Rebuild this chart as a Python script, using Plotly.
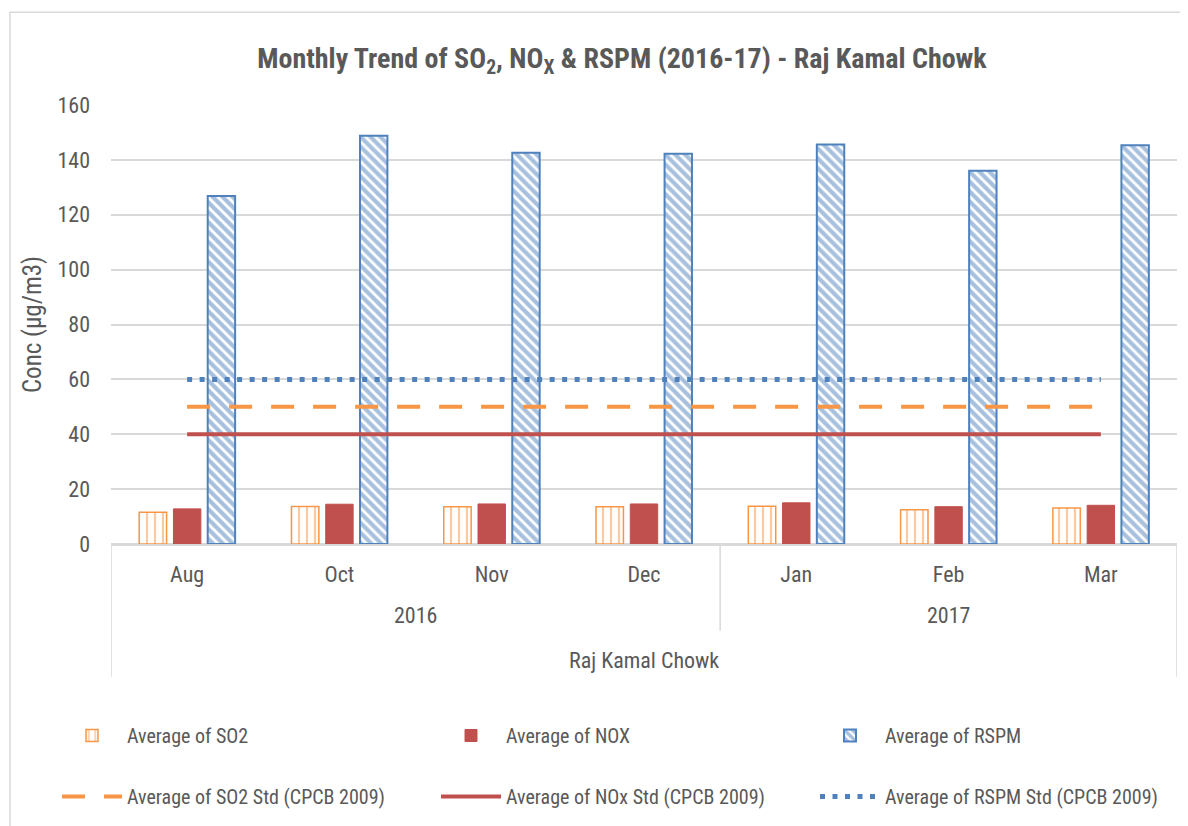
import plotly.graph_objects as go

months = ["Aug", "Oct", "Nov", "Dec", "Jan", "Feb", "Mar"]
years = ["2016", "2017"]
year_span = [(0, 3), (4, 6)]
location = "Raj Kamal Chowk"

so2 = [11.6, 13.7, 13.6, 13.6, 13.8, 12.5, 13.1]
nox = [12.8, 14.5, 14.6, 14.6, 15.0, 13.6, 14.1]
rspm = [126.8, 148.8, 142.6, 142.2, 145.6, 136.0, 145.3]
so2_std = [50] * 7
nox_std = [40] * 7
rspm_std = [60] * 7

ORANGE = "#F79646"
RED = "#C0504D"
BLUE = "#4F81BD"
GRID = "#D9D9D9"
TXT = "#595959"
FONT = "Liberation Sans Narrow, Arial Narrow, Roboto Condensed, Liberation Sans, sans-serif"

# page offset (body margin) compensation
OFF = 8
W, H = 1188 - OFF, 826 - OFF
# plot area in page pixels: x 111..1177, y 105..545
L = 111 - OFF
T = 105 - OFF
R = W - (1177 - OFF)
B = H - (545 - OFF)
pw, ph = W - L - R, H - T - B


def px(xpage):
    return (xpage - OFF - L) / pw


def py(ypage):
    return (H - B - (ypage - OFF)) / ph


fig = go.Figure()

fig.add_trace(go.Bar(
    x=months, y=so2, name="Average of SO2", legend="legend", legendgroup="a",
    marker=dict(color="white", line=dict(color=ORANGE, width=1.5),
                pattern=dict(shape="|", fgcolor=ORANGE, bgcolor="white", size=8, solidity=0.28)),
))
fig.add_trace(go.Bar(
    x=months, y=nox, name="Average of NOX", legend="legend2", legendgroup="b",
    marker=dict(color=RED, line=dict(color=RED, width=1)),
))
fig.add_trace(go.Bar(
    x=months, y=rspm, name="Average of RSPM", legend="legend3", legendgroup="c",
    marker=dict(color="white", line=dict(color=BLUE, width=2),
                pattern=dict(shape="\\", fgcolor=BLUE, bgcolor="white", size=7, solidity=0.6)),
))
fig.add_trace(go.Scatter(
    x=months, y=so2_std, name="Average of SO2 Std (CPCB 2009)", mode="lines",
    legend="legend", legendgroup="d",
    line=dict(color=ORANGE, width=4, dash="23px,19px"),
))
fig.add_trace(go.Scatter(
    x=months, y=nox_std, name="Average of NOx Std (CPCB 2009)", mode="lines",
    legend="legend2", legendgroup="e",
    line=dict(color=RED, width=4),
))
fig.add_trace(go.Scatter(
    x=months, y=rspm_std, name="Average of RSPM Std (CPCB 2009)", mode="lines",
    legend="legend3", legendgroup="f",
    line=dict(color=BLUE, width=5, dash="5px,7.5px"),
))

legend_common = dict(
    orientation="v", xanchor="left", yanchor="top",
    font=dict(family=FONT, size=20, color=TXT),
    bgcolor="rgba(0,0,0,0)", itemwidth=60, tracegroupgap=32,
    traceorder="grouped",
)

fig.update_layout(
    width=W, height=H,
    margin=dict(l=L, r=R, t=T, b=B),
    paper_bgcolor="white", plot_bgcolor="white",
    font=dict(family=FONT, color=TXT),
    barmode="group", bargap=0.325, bargroupgap=0.2,
    title=dict(
        text="Monthly Trend of SO<sub>2</sub>, NO<sub>X</sub> & RSPM (2016-17) - Raj Kamal Chowk",
        x=(622 - OFF) / W, xanchor="center", y=1 - (58 - OFF) / H, yanchor="middle",
        font=dict(family=FONT, size=28, color=TXT, weight="bold"),
    ),
    xaxis=dict(
        type="category", showgrid=False, showline=True, linecolor=GRID, linewidth=1.5,
        ticks="", tickfont=dict(family=FONT, size=22, color=TXT), ticklabelstandoff=10,
        range=[-0.5, 6.5],
    ),
    yaxis=dict(
        range=[0, 160], dtick=20, showgrid=True, gridcolor=GRID, gridwidth=1.5,
        zeroline=True, zerolinecolor=GRID, zerolinewidth=1.5,
        tickfont=dict(family=FONT, size=22, color=TXT), ticklabelstandoff=20,
        title=dict(text="Conc (µg/m3)", font=dict(family=FONT, size=25, color=TXT), standoff=8),
    ),
    legend=dict(x=px(57), y=py(716), **legend_common),
    legend2=dict(x=px(436), y=py(716), **legend_common),
    legend3=dict(x=px(815), y=py(716), **legend_common),
    showlegend=True,
)

# multi-level category dividers
fig.add_shape(type="line", xref="x", yref="paper", x0=-0.5, x1=-0.5,
              y0=0, y1=py(678), line=dict(color=GRID, width=1.5))
fig.add_shape(type="line", xref="x", yref="paper", x0=6.5, x1=6.5,
              y0=0, y1=py(678), line=dict(color=GRID, width=1.5))
fig.add_shape(type="line", xref="x", yref="paper", x0=3.5, x1=3.5,
              y0=0, y1=py(632), line=dict(color=GRID, width=1.5))

for yr, (a, b) in zip(years, year_span):
    fig.add_annotation(x=(a + b) / 2, xref="x", y=py(617), yref="paper",
                       text=yr, showarrow=False, yanchor="middle",
                       font=dict(family=FONT, size=22, color=TXT))
fig.add_annotation(x=3, xref="x", y=py(662), yref="paper",
                   text=location, showarrow=False, yanchor="middle",
                   font=dict(family=FONT, size=22, color=TXT))

# chart border
fig.add_shape(type="rect", xref="paper", yref="paper",
              x0=px(10), x1=px(1210), y0=py(860), y1=py(12),
              line=dict(color=GRID, width=1.5), layer="below")

fig.write_html("out.html")
